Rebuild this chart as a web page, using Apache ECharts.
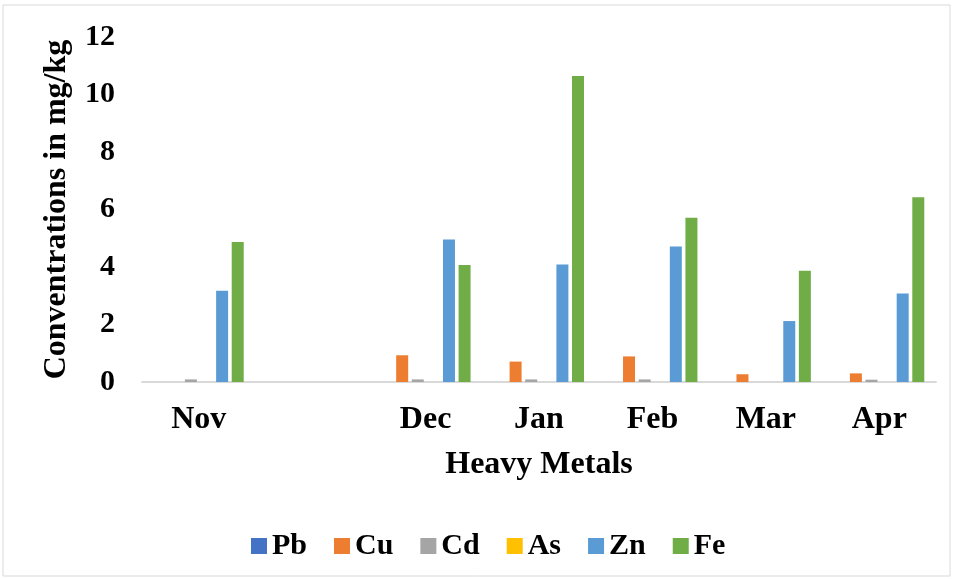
<!DOCTYPE html>
<html>
<head>
<meta charset="utf-8">
<script src="https://cdn.jsdelivr.net/npm/echarts@6/dist/echarts.min.js"></script>
<style>
  html, body { margin: 0; padding: 0; background: #fff; }
  #main { width: 954px; height: 579px; }
</style>
</head>
<body>
<div id="main"></div>
<script>
// months (blank slot between Nov and Dec, as in the original sheet)
var months = ['Nov', '', 'Dec', 'Jan', 'Feb', 'Mar', 'Apr'];
var pb = [0, null, 0, 0, 0, 0, 0];
var cu = [0, null, 0.93, 0.71, 0.89, 0.27, 0.30];
var cd = [0.09, null, 0.09, 0.09, 0.09, 0, 0.08];
var as = [0, null, 0, 0, 0, 0, 0];
var zn = [3.17, null, 4.96, 4.09, 4.71, 2.12, 3.08];
var fe = [4.87, null, 4.07, 10.64, 5.71, 3.87, 6.43];

var metals = ['Pb', 'Cu', 'Cd', 'As', 'Zn', 'Fe'];
var colors = ['#4472C4', '#ED7D31', '#A5A5A5', '#FFC000', '#5B9BD5', '#70AD47'];
var values = [pb, cu, cd, as, zn, fe];

var font = '"Liberation Serif", "Times New Roman", serif';

var chart = echarts.init(document.getElementById('main'));

var series = metals.map(function (name, i) {
    return {
        name: name,
        type: 'bar',
        data: values[i],
        barWidth: 12,
        barGap: '30%',
        itemStyle: { color: colors[i] }
    };
});

chart.setOption({
    animation: false,
    color: colors,
    graphic: [{
        type: 'rect',
        shape: { x: 3, y: 5, width: 947, height: 571 },
        style: { fill: 'none', stroke: '#d9d9d9', lineWidth: 1 },
        silent: true
    }],
    grid: { left: 142, right: 18, top: 37, bottom: 197, containLabel: false },
    legend: {
        data: metals,
        left: 246,
        top: 526,
        itemWidth: 16,
        itemHeight: 16,
        itemGap: 27,
        icon: 'rect',
        textStyle: { fontFamily: font, fontWeight: 'bold', fontSize: 30, color: '#000' }
    },
    xAxis: {
        type: 'category',
        data: months,
        name: 'Heavy Metals',
        nameLocation: 'middle',
        nameGap: 67,
        nameTextStyle: { fontFamily: font, fontWeight: 'bold', fontSize: 32, color: '#000' },
        axisLine: { lineStyle: { color: '#d9d9d9', width: 2 } },
        axisTick: { show: false },
        axisLabel: { margin: 22, fontFamily: font, fontWeight: 'bold', fontSize: 32, color: '#000' }
    },
    yAxis: {
        type: 'value',
        min: 0,
        max: 12,
        interval: 2,
        name: 'Conventrations in mg/kg',
        nameLocation: 'middle',
        nameGap: 69,
        nameTextStyle: { fontFamily: font, fontWeight: 'bold', fontSize: 32, color: '#000' },
        axisLine: { show: false },
        axisTick: { show: false },
        splitLine: { show: false },
        axisLabel: { margin: 27, fontFamily: font, fontWeight: 'bold', fontSize: 30, color: '#000' }
    },
    series: series
});
</script>
</body>
</html>
